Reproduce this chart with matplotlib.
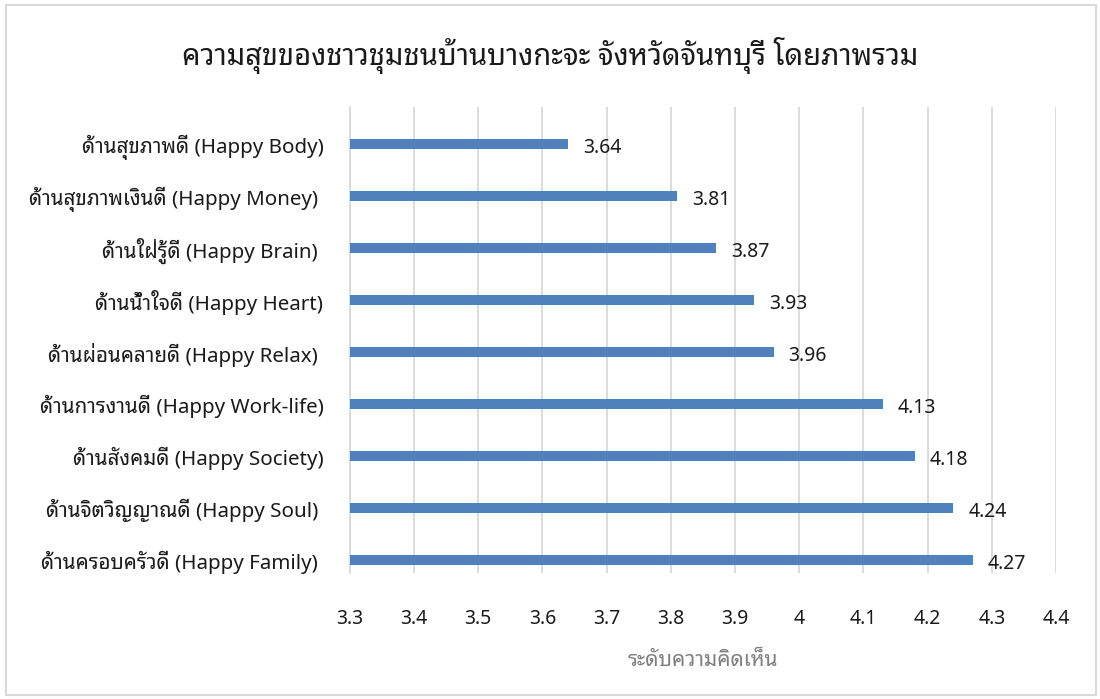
import matplotlib
matplotlib.use("Agg")
import matplotlib.pyplot as plt
from matplotlib.patches import Rectangle
from matplotlib.ticker import MultipleLocator, FuncFormatter

FONT = ['Noto Sans Thai Looped', 'Noto Sans', 'DejaVu Sans']
plt.rcParams['font.family'] = FONT

title = "ความสุขของชาวชุมชนบ้านบางกะจะ จังหวัดจันทบุรี โดยภาพรวม"
xlabel = "ระดับความคิดเห็น"
categories = [
    "ด้านสุขภาพดี (Happy Body)",
    "ด้านสุขภาพเงินดี (Happy Money) ",
    "ด้านใฝ่รู้ดี (Happy Brain) ",
    "ด้านน้ำใจดี (Happy Heart)",
    "ด้านผ่อนคลายดี (Happy Relax) ",
    "ด้านการงานดี (Happy Work-life)",
    "ด้านสังคมดี (Happy Society)",
    "ด้านจิตวิญญาณดี (Happy Soul) ",
    "ด้านครอบครัวดี (Happy Family) ",
]
values = [3.64, 3.81, 3.87, 3.93, 3.96, 4.13, 4.18, 4.24, 4.27]
x_min, x_max, x_step = 3.3, 4.4, 0.1

fig = plt.figure(figsize=(11, 6.99), dpi=100)
fig.patch.set_facecolor('white')
fig.patches.append(Rectangle((0.005, 0.006), 0.991, 0.987, transform=fig.transFigure,
                             fill=False, edgecolor='#d9d9d9', linewidth=1.5))

ax = fig.add_axes([0.318, 0.18, 0.642, 0.667])
n = len(categories)
ypos = list(range(n - 1, -1, -1))
ax.barh(ypos, values, height=0.2, left=0, color='#4f81bd', zorder=3)
ax.set_xlim(x_min, x_max)
ax.set_ylim(-0.25, n - 1 + 0.71)

ax.xaxis.set_major_locator(MultipleLocator(x_step))
ax.xaxis.set_major_formatter(FuncFormatter(lambda v, p: ("%.1f" % v).rstrip('0').rstrip('.')))
ax.grid(axis='x', color='#d9d9d9', linewidth=1.3, zorder=0)
ax.grid(axis='y', visible=False)
for s in ['top', 'right', 'bottom']:
    ax.spines[s].set_visible(False)
ax.spines['left'].set_color('#d9d9d9')
ax.spines['left'].set_linewidth(1.3)
ax.tick_params(axis='both', length=0)
ax.tick_params(axis='x', labelsize=14, labelcolor='#1a1a1a', pad=26)
ax.set_yticks(ypos)
ax.set_yticklabels(categories, fontsize=14.8, color='#1a1a1a')
ax.tick_params(axis='y', pad=19)

for y, v in zip(ypos, values):
    ax.annotate("%.2f" % v, xy=(v, y), xytext=(15, -4), textcoords='offset pixels',
                ha='left', va='center', fontsize=14, color='#1a1a1a')

ax.set_xlabel(xlabel, fontsize=15, color='#7f7f7f', labelpad=15)
fig.text(0.5, 0.921, title, ha='center', va='center', fontsize=21, color='#1a1a1a')

fig.savefig("out.png", dpi=100, facecolor='white')
